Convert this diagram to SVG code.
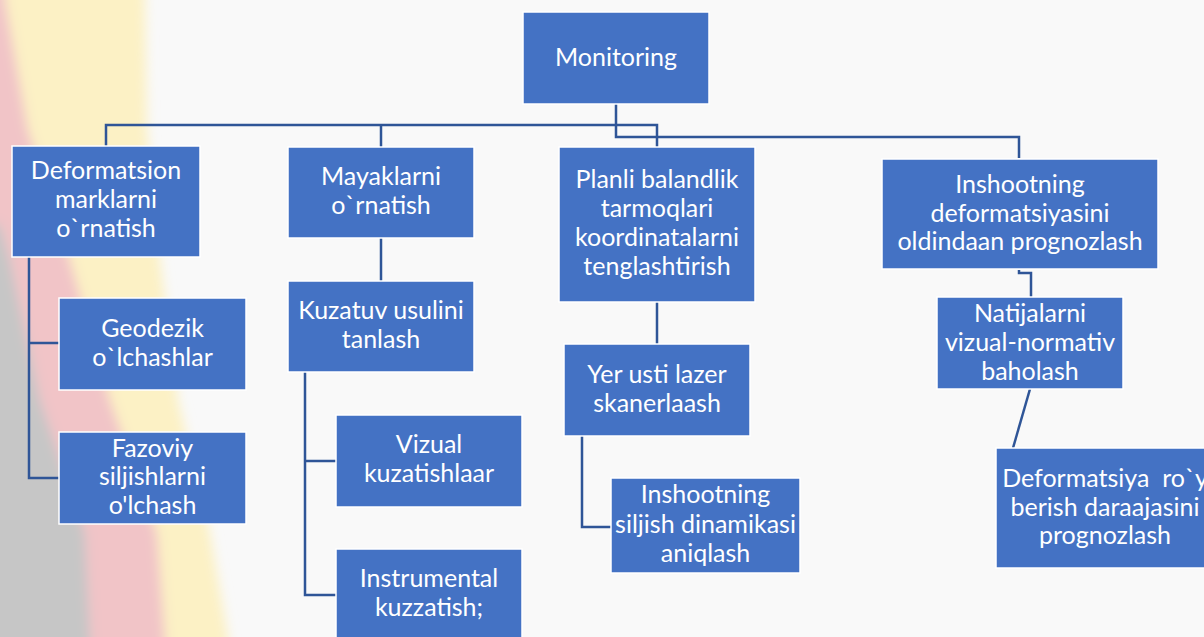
<svg xmlns="http://www.w3.org/2000/svg" width="1204" height="637" viewBox="0 0 1204 637">
<defs>
<filter id="blur" x="-20%" y="-20%" width="140%" height="140%"><feGaussianBlur stdDeviation="6"/></filter>
<style>
.box{fill:#4472C4;stroke:#ffffff;stroke-width:1.5}
.t{font-family:Lato,"Open Sans","Liberation Sans",sans-serif;font-size:25px;fill:#ffffff;text-anchor:middle}
.c{fill:none;stroke:#2F5597;stroke-width:2.5}
</style>
</defs>
<rect x="0" y="0" width="1204" height="637" fill="#f9f9f9"/>
<g filter="url(#blur)">
<polygon fill="#fcf1c5" points="-40,-30 145,-30 145,0 147,130 160,260 178,400 210,533 228,637 232,680 -40,680"/>
<polygon fill="#f1c4c7" points="-40,-30 3,-30 5,0 28,130 70,260 110,400 157,533 165,637 168,680 -40,680"/>
<polygon fill="#c6c6c6" points="-40,220 0,225 10,260 40,400 85,533 90,637 92,680 -40,680"/>
</g>
<g id="connectors">
<path class="c" d="M616,104 V137 H1019 V158"/>
<path class="c" d="M106,146 V125 H657 V147"/>
<path class="c" d="M381,125 V147"/>
<path class="c" d="M29,257 V478 H59 M29,343 H59"/>
<path class="c" d="M381,238 V281"/>
<path class="c" d="M305,372 V595 H336 M305,461 H336"/>
<path class="c" d="M657,302 V344"/>
<path class="c" d="M582,436 V527 H611"/>
<path class="c" d="M1019,270 V273 H1031 V297"/>
<path class="c" d="M1030,389 L1013,448"/>
</g>
<g id="monitoring"><rect class="box" x="523" y="12" width="186" height="92"/><text class="t" x="616" y="66">Monitoring</text></g>
<g id="deformatsion"><rect class="box" x="12" y="146" width="188" height="111"/><text class="t" x="106" y="179">Deformatsion</text><text class="t" x="106" y="208">marklarni</text><text class="t" x="106" y="237">o`rnatish</text></g>
<g id="geodezik"><rect class="box" x="59" y="298" width="187" height="92"/><text class="t" x="152.5" y="337">Geodezik</text><text class="t" x="152.5" y="366">o`lchashlar</text></g>
<g id="fazoviy"><rect class="box" x="59" y="432" width="187" height="92"/><text class="t" x="152.5" y="457">Fazoviy</text><text class="t" x="152.5" y="485">siljishlarni</text><text class="t" x="152.5" y="514">o'lchash</text></g>
<g id="mayaklarni"><rect class="box" x="288" y="147" width="186" height="91"/><text class="t" x="381" y="185">Mayaklarni</text><text class="t" x="381" y="214">o`rnatish</text></g>
<g id="kuzatuv"><rect class="box" x="288" y="281" width="186" height="91"/><text class="t" x="381" y="319">Kuzatuv usulini</text><text class="t" x="381" y="348">tanlash</text></g>
<g id="vizual"><rect class="box" x="336" y="415" width="186" height="92"/><text class="t" x="429" y="453">Vizual</text><text class="t" x="429" y="482">kuzatishlaar</text></g>
<g id="instrumental"><rect class="box" x="336" y="549" width="186" height="92"/><text class="t" x="429" y="587">Instrumental</text><text class="t" x="429" y="616">kuzzatish;</text></g>
<g id="planli"><rect class="box" x="559" y="147" width="196" height="155"/><text class="t" x="657" y="188">Planli balandlik</text><text class="t" x="657" y="217">tarmoqlari</text><text class="t" x="657" y="246">koordinatalarni</text><text class="t" x="657" y="275">tenglashtirish</text></g>
<g id="yer-usti"><rect class="box" x="564" y="344" width="186" height="92"/><text class="t" x="657" y="383">Yer usti lazer</text><text class="t" x="657" y="412">skanerlaash</text></g>
<g id="siljish"><rect class="box" x="611" y="478" width="189" height="95"/><text class="t" x="705.5" y="503">Inshootning</text><text class="t" x="705.5" y="533">siljish dinamikasi</text><text class="t" x="705.5" y="562">aniqlash</text></g>
<g id="prognoz"><rect class="box" x="882" y="159" width="276" height="110"/><text class="t" x="1020" y="193">Inshootning</text><text class="t" x="1020" y="222">deformatsiyasini</text><text class="t" x="1020" y="250">oldindaan prognozlash</text></g>
<g id="natijalarni"><rect class="box" x="937" y="297" width="186" height="92"/><text class="t" x="1030" y="322">Natijalarni</text><text class="t" x="1030" y="351">vizual-normativ</text><text class="t" x="1030" y="380">baholash</text></g>
<g id="deformatsiya"><rect class="box" x="996" y="448" width="218" height="120"/><text class="t" x="1105" y="487" xml:space="preserve">Deformatsiya  ro`y</text><text class="t" x="1105" y="516">berish daraajasini</text><text class="t" x="1105" y="544">prognozlash</text></g>
</svg>
